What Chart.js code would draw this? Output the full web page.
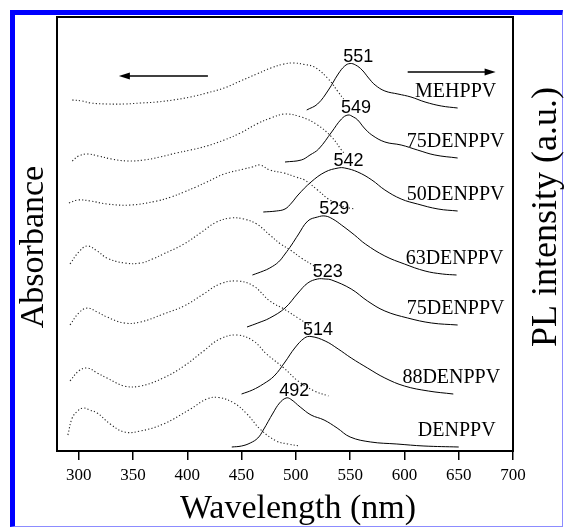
<!DOCTYPE html>
<html>
<head>
<meta charset="utf-8">
<script src="https://cdn.jsdelivr.net/npm/chart.js@4.4.1/dist/chart.umd.min.js"></script>
<style>
  html, body { margin: 0; padding: 0; background: #fff; }
  #wrap { position: relative; width: 564px; height: 527px; overflow: hidden; }
  #frame { position: absolute; left: 10px; top: 10px; width: 553px; height: 517px; box-sizing: border-box;
           border-left: 5px solid #0000ff; border-top: 5px solid #0000ff;
           border-right: 1px solid #8c8cff; border-bottom: 1px solid #8c8cff; }
  #chart { position: absolute; left: 0; top: 0; }
</style>
</head>
<body>
<div id="wrap">
  <div id="frame"></div>
  <canvas id="chart" width="564" height="527"></canvas>
</div>
<script>
// x axis ticks (nm)
const xTicks = [300, 350, 400, 450, 500, 550, 600, 650, 700];

const sampleNames = ['MEHPPV', '75DENPPV', '50DENPPV', '63DENPPV', '75DENPPV', '88DENPPV', 'DENPPV'];
const plPeaks = [551, 549, 542, 529, 523, 514, 492];

// absorption spectra (dotted), [wavelength, stacked intensity]
const absMEHPPV = [[294,351],[303,350],[311,348],[326,347],[342,347],[357,348],[372,349],[387,351],[403,354],[418,358],[434,363],[449,370],[464,377],[477,383],[489,387],[498,388],[508,386.5],[517,384],[530,372],[539,359],[544,352]];
const abs75DENPPV = [[294,290],[300,295],[308,297],[318,295],[330,292],[345,290],[360,291],[375,294],[390,298],[403,301],[418,305],[434,311],[449,318],[464,327],[477,333],[490,337],[505,334],[520,326],[533,314],[542,301],[545,297]];
const abs50DENPPV = [[291,248],[299,251],[311,250],[326,247],[348,246],[372,250],[385,254],[397,259],[408,264],[418,269],[434,277],[452,282],[460,284],[467,286],[476,281],[489,278],[500,274],[508,271],[520,261],[530,252],[542,245],[554,242]];
const abs63DENPPV = [[292,187],[300,199],[308,205],[317,200],[326,193],[342,188],[357,188],[368,192],[378,197],[397,207],[412,218],[427,229],[440,233],[452,232],[464,227],[476,216],[486,207],[495,201],[505,193],[517,185]];
const abs75DENPPVb = [[292,126],[300,138],[308,143],[317,139],[326,134],[342,128],[357,129],[378,137],[397,145],[415,157],[430,167],[446,170],[461,165],[476,150],[489,142],[502,133],[512,126]];
const abs88DENPPV = [[292,70],[300,80],[308,83],[317,78],[326,73],[342,65],[357,65],[378,73],[397,85],[415,100],[430,112],[446,116],[461,110],[473,97],[489,83],[502,70],[517,60],[530,55]];
const absDENPPV = [[290,16],[294,33],[299,40],[304,43],[310,41],[317,38],[329,27],[342,19],[357,20],[378,27],[403,42],[418,52],[429,53.5],[443,48],[455,37],[467,22],[482,10],[493,7],[503,5]];

// PL spectra (solid)
const plMEHPPV = [[510,341],[520,347],[530,361],[539,377],[545,385],[550,387.5],[555,386],[561,381],[567,373],[573,366],[582,360],[594,357],[606,354],[619,349],[634,345],[649,343]];
const pl75DENPPV = [[490,289],[505,291],[513,296],[521,302],[533,319],[542,332],[548,336],[553,334],[557,331],[563,323],[570,316],[582,309],[597,306],[612,301],[628,296],[649,293]];
const pl50DENPPV = [[470,239],[482,240],[490,242],[496,248],[502,256],[514,269],[527,279],[539,283],[545,283],[557,279],[570,271],[582,261],[597,252],[612,247],[631,242],[649,240]];
const pl63DENPPV = [[460,176],[470,180],[476,183],[484,189],[490,197],[496,206],[502,216],[511,230],[520,234],[527,235],[534,232],[542,226],[554,216],[564,207],[582,195],[600,187],[619,180],[635,177],[648,176]];
const pl75DENPPVb = [[455,124],[465,128],[476,133],[490,143],[502,158],[511,168],[520,172],[527,172],[533,171],[551,162],[566,150],[582,140],[603,133],[625,128],[649,126]];
const pl88DENPPV = [[450,57],[460,61],[470,67],[480,75],[490,89],[499,103],[508,113],[514,114.5],[527,110],[539,102],[551,93],[566,83],[582,73],[600,65],[622,60],[645,57]];
const plDENPPV = [[441,4],[450,5],[458,8],[465,13],[470,21],[479,38],[485,48],[491,53],[495,52],[504,44],[514,36],[526,31],[538,23],[550,14],[569,9],[593,7],[618,5],[650,4]];

// direction arrows: [from, to] in nm, and their level
const absArrow = [419, 337];
const plArrow = [603, 684];
const arrowLevels = [375, 379];

const absCurves = [absMEHPPV, abs75DENPPV, abs50DENPPV, abs63DENPPV, abs75DENPPVb, abs88DENPPV, absDENPPV];
const plCurves = [plMEHPPV, pl75DENPPV, pl50DENPPV, pl63DENPPV, pl75DENPPVb, pl88DENPPV, plDENPPV];

const serif = "'Liberation Serif', 'Times New Roman', serif";
const sans = "'Liberation Sans', Arial, sans-serif";

const toXY = c => c.map(([x, y]) => ({ x, y }));

const datasets = [];
absCurves.forEach((c, i) => datasets.push({
    label: 'Abs ' + sampleNames[i],
    data: toXY(c),
    borderColor: '#222',
    borderWidth: 1.1,
    borderDash: [1.2, 2.2],
    pointRadius: 0,
    tension: 0.4,
    fill: false
}));
plCurves.forEach((c, i) => datasets.push({
    label: 'PL ' + sampleNames[i],
    data: toXY(c),
    borderColor: '#000',
    borderWidth: 1,
    pointRadius: 0,
    tension: 0.4,
    fill: false
}));

function arrow(ctx, x1, x2, y) {
    const dir = Math.sign(x2 - x1);
    ctx.beginPath();
    ctx.moveTo(x1, y);
    ctx.lineTo(x2 - dir * 8, y);
    ctx.lineWidth = 1.6;
    ctx.stroke();
    ctx.beginPath();
    ctx.moveTo(x2, y);
    ctx.lineTo(x2 - dir * 11, y - 3.5);
    ctx.lineTo(x2 - dir * 11, y + 3.5);
    ctx.closePath();
    ctx.fill();
}

// frame, labels, arrows and axis titles
const decorations = {
    id: 'decorations',
    afterDatasetsDraw(chart) {
        const { ctx, chartArea: a, scales: { x, y } } = chart;
        ctx.save();
        ctx.strokeStyle = '#000';
        ctx.fillStyle = '#000';
        ctx.lineWidth = 2;
        ctx.strokeRect(a.left, a.top, a.right - a.left, a.bottom - a.top);

        // peak wavelengths
        ctx.font = '18px ' + sans;
        ctx.textAlign = 'center';
        ctx.textBaseline = 'alphabetic';
        plCurves.forEach((c, i) => {
            const top = Math.max(...c.map(p => p[1]));
            ctx.fillText(String(plPeaks[i]), x.getPixelForValue(plPeaks[i]) + 7, y.getPixelForValue(top) - 2);
        });

        // sample names above the PL tails
        ctx.font = '20px ' + serif;
        plCurves.forEach((c, i) => {
            const last = c[c.length - 1];
            ctx.fillText(sampleNames[i], x.getPixelForValue(last[0]) - 2, y.getPixelForValue(last[1]) - 11.5);
        });

        arrow(ctx, x.getPixelForValue(absArrow[0]), x.getPixelForValue(absArrow[1]), y.getPixelForValue(arrowLevels[0]));
        arrow(ctx, x.getPixelForValue(plArrow[0]), x.getPixelForValue(plArrow[1]), y.getPixelForValue(arrowLevels[1]));

        // axis titles
        ctx.font = '34px ' + serif;
        ctx.fillText('Wavelength (nm)', a.left + 241, 518);
        ctx.save();
        ctx.translate(43, a.top + 230);
        ctx.rotate(-Math.PI / 2);
        ctx.fillText('Absorbance', 0, 0);
        ctx.restore();
        ctx.save();
        ctx.font = '36px ' + serif;
        ctx.translate(556, a.top + 200);
        ctx.rotate(-Math.PI / 2);
        ctx.fillText('PL intensity (a.u.)', 0, 0);
        ctx.restore();
        ctx.restore();
    }
};

new Chart(document.getElementById('chart'), {
    type: 'line',
    data: { datasets },
    options: {
        responsive: false,
        animation: false,
        layout: { padding: { top: 17, right: 51, left: 0, bottom: 0 } },
        plugins: { legend: { display: false }, tooltip: { enabled: false } },
        scales: {
            x: {
                type: 'linear',
                min: 280,
                max: 700,
                afterBuildTicks: s => { s.ticks = xTicks.map(v => ({ value: v })); },
                afterFit: s => { s.height = 76; },
                border: { display: false },
                grid: { display: true, drawOnChartArea: false, drawTicks: true, tickLength: 9, color: '#000', lineWidth: 1.5 },
                ticks: { color: '#000', padding: 5, maxRotation: 0, font: { family: serif, size: 17 } }
            },
            y: {
                type: 'linear',
                min: 0,
                max: 434,
                afterFit: s => { s.width = 57; },
                border: { display: false },
                grid: { display: false },
                ticks: { display: false }
            }
        }
    },
    plugins: [decorations]
});
</script>
</body>
</html>
